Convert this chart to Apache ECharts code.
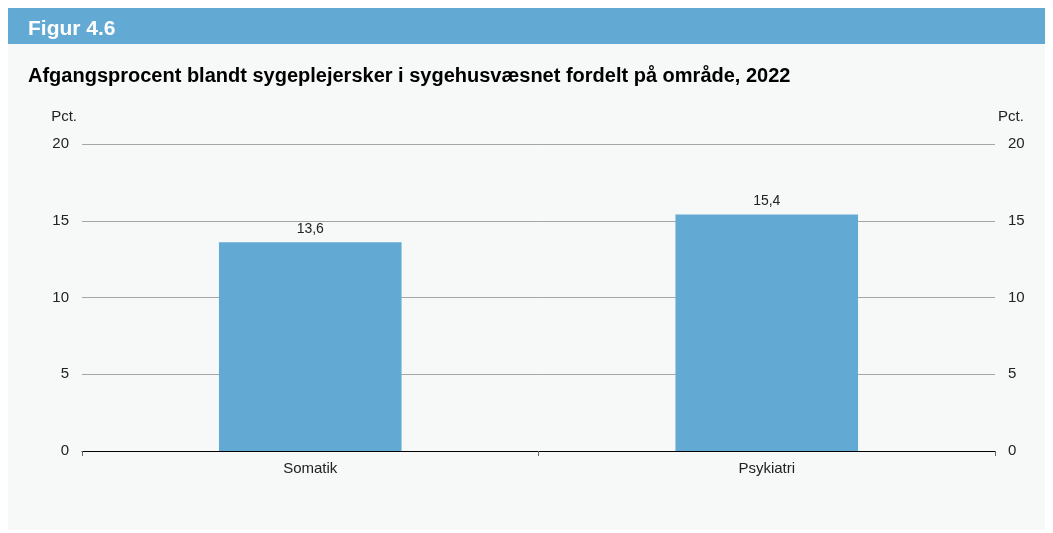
<!DOCTYPE html>
<html>
<head>
<meta charset="utf-8">
<script src="https://cdn.jsdelivr.net/npm/echarts@6/dist/echarts.min.js"></script>
<style>
  html, body { margin: 0; padding: 0; background: #fff; }
  #chart { width: 1053px; height: 533px; }
</style>
</head>
<body>
<div id="chart"></div>
<script>
const categories = ["Somatik", "Psykiatri"];
const values = [13.6, 15.4];
const yTicks = { min: 0, max: 20, interval: 5 };

const font = "'Liberation Sans', Arial, sans-serif";
const blue = "#62a9d4";

const chart = echarts.init(document.getElementById("chart"));

// fælles indstillinger for venstre og højre akse
const yAxisBase = {
  type: "value",
  min: yTicks.min,
  max: yTicks.max,
  interval: yTicks.interval,
  name: "Pct.",
  nameLocation: "end",
  nameGap: 20,
  axisLine: { show: false },
  axisTick: { show: false },
  axisLabel: { color: "#222", fontSize: 15, fontFamily: font, margin: 13 },
  splitLine: { lineStyle: { color: "#a6a6a6", width: 1 } },
};

chart.setOption({
  backgroundColor: "#fff",
  animation: false,
  graphic: [
    { type: "rect", left: 8, top: 8, shape: { width: 1037, height: 522 }, style: { fill: "#f7f8f8" }, z: -10 },
    { type: "rect", left: 8, top: 8, shape: { width: 1037, height: 36 }, style: { fill: blue }, z: -9 },
  ],
  title: [
    {
      text: "Figur 4.6",
      left: 28,
      top: 19,
      padding: 0,
      textStyle: { color: "#fff", fontSize: 21, fontWeight: "bold", fontFamily: font },
    },
    {
      text: "Afgangsprocent blandt sygeplejersker i sygehusvæsnet fordelt på område, 2022",
      left: 28,
      top: 66,
      padding: 0,
      textStyle: { color: "#000", fontSize: 20, fontWeight: "bold", fontFamily: font },
    },
  ],
  grid: { left: 82, right: 58, top: 144, bottom: 82 },
  xAxis: {
    type: "category",
    data: categories,
    axisLine: { lineStyle: { color: "#000", width: 1 } },
    axisTick: { show: true, length: 5, lineStyle: { color: "#666" } },
    axisLabel: { color: "#222", fontSize: 15, fontFamily: font, margin: 10 },
  },
  yAxis: [
    Object.assign({}, yAxisBase, {
      position: "left",
      nameTextStyle: { color: "#222", fontSize: 15, fontFamily: font, align: "right", padding: [0, 5, 0, 0] },
    }),
    Object.assign({}, yAxisBase, {
      position: "right",
      nameTextStyle: { color: "#222", fontSize: 15, fontFamily: font, align: "left", padding: [0, 0, 0, 3] },
    }),
  ],
  series: [
    {
      type: "bar",
      data: values,
      barWidth: "40%",
      itemStyle: { color: blue },
      label: {
        show: true,
        position: "top",
        distance: 6,
        color: "#222",
        fontSize: 14,
        fontFamily: font,
        formatter: (p) => p.value.toFixed(1).replace(".", ","),
      },
    },
  ],
});
</script>
</body>
</html>
